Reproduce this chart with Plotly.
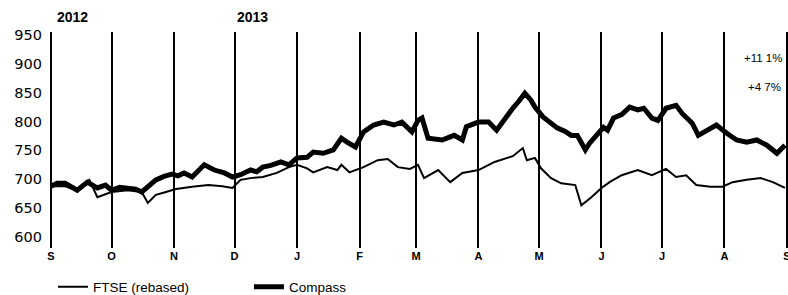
import plotly.graph_objects as go

# ---- data ----
compass_dates = ["2012-09-01","2012-09-04","2012-09-08","2012-09-11","2012-09-14","2012-09-19","2012-09-24","2012-09-28",
    "2012-10-01","2012-10-05","2012-10-09","2012-10-13","2012-10-16","2012-10-19","2012-10-23","2012-10-27","2012-10-31",
    "2012-11-03","2012-11-06","2012-11-10","2012-11-13","2012-11-16","2012-11-21","2012-11-26","2012-11-30",
    "2012-12-04","2012-12-09","2012-12-12","2012-12-15","2012-12-19","2012-12-24","2012-12-28",
    "2013-01-01","2013-01-06","2013-01-09","2013-01-14","2013-01-19","2013-01-21","2013-01-23","2013-01-26","2013-01-30",
    "2013-02-03","2013-02-08","2013-02-13","2013-02-18","2013-02-22","2013-02-25","2013-02-27",
    "2013-03-02","2013-03-04","2013-03-07","2013-03-10","2013-03-14","2013-03-17","2013-03-20","2013-03-24","2013-03-26",
    "2013-04-01","2013-04-06","2013-04-10","2013-04-14","2013-04-18","2013-04-21","2013-04-24","2013-04-27","2013-04-29",
    "2013-05-03","2013-05-06","2013-05-10","2013-05-14","2013-05-17","2013-05-20","2013-05-24","2013-05-26","2013-05-29",
    "2013-06-02","2013-06-04","2013-06-07","2013-06-11","2013-06-15","2013-06-19","2013-06-22","2013-06-26","2013-06-29",
    "2013-07-03","2013-07-08","2013-07-11","2013-07-16","2013-07-19","2013-07-23","2013-07-28",
    "2013-08-02","2013-08-07","2013-08-12","2013-08-17","2013-08-22","2013-08-27","2013-08-31"]
compass_values = [688,693,693,686,681,695,685,690,
    681,686,685,683,678,688,699,705,709,
    706,711,704,715,725,716,711,704,
    708,716,713,721,724,730,725,
    737,738,747,745,751,760,771,764,756,
    782,794,799,794,799,790,782,
    802,806,771,770,768,772,776,768,791,
    799,799,785,805,823,835,849,837,825,
    808,799,789,783,776,776,751,762,773,
    790,785,806,812,825,820,823,806,802,
    823,828,814,797,776,785,794,
    780,768,764,768,759,745,759]

ftse_dates = ["2012-09-01","2012-09-08","2012-09-14","2012-09-20","2012-09-24",
    "2012-10-01","2012-10-09","2012-10-16","2012-10-19","2012-10-23","2012-10-28",
    "2012-11-02","2012-11-10","2012-11-18","2012-11-25","2012-11-30",
    "2012-12-04","2012-12-09","2012-12-15","2012-12-22","2012-12-28",
    "2013-01-01","2013-01-06","2013-01-09","2013-01-16","2013-01-21","2013-01-23","2013-01-27",
    "2013-02-03","2013-02-10","2013-02-15","2013-02-20","2013-02-26",
    "2013-03-02","2013-03-05","2013-03-12","2013-03-18","2013-03-24",
    "2013-04-01","2013-04-09","2013-04-18","2013-04-23","2013-04-25","2013-04-29",
    "2013-05-02","2013-05-07","2013-05-12","2013-05-19","2013-05-22","2013-05-27",
    "2013-06-01","2013-06-05","2013-06-11","2013-06-19","2013-06-26",
    "2013-07-03","2013-07-08","2013-07-13","2013-07-18","2013-07-25","2013-07-31",
    "2013-08-05","2013-08-12","2013-08-19","2013-08-25","2013-08-31"]
ftse_values = [688,688,681,699,669,
    678,681,678,659,673,678,
    683,687,690,688,685,
    699,702,704,711,721,
    725,719,712,721,716,725,712,
    721,733,735,721,718,
    725,702,716,695,711,
    716,730,740,754,733,737,
    719,702,693,690,655,669,
    685,695,707,716,707,
    718,704,707,690,687,687,
    695,699,702,695,685]

month_ticks = ["2012-09-01","2012-10-01","2012-11-01","2012-12-01","2013-01-01","2013-02-01","2013-03-01",
               "2013-04-01","2013-05-01","2013-06-01","2013-07-01","2013-08-01","2013-09-01"]
month_labels = ["S","O","N","D","J","F","M","A","M","J","J","A","S"]
y_ticks = [600,650,700,750,800,850,900,950]
year_labels = ["2012","2013"]
year_positions = ["2012-09-03","2012-12-01"]
change_labels = ["+11 1%","+4 7%"]

FONT = "Liberation Sans, Arial, Helvetica, sans-serif"

fig = go.Figure()
fig.add_trace(go.Scatter(x=ftse_dates, y=ftse_values, mode="lines", name="FTSE (rebased)",
                         line=dict(color="black", width=2)))
fig.add_trace(go.Scatter(x=compass_dates, y=compass_values, mode="lines", name="Compass",
                         line=dict(color="black", width=5)))

# closing month line at the right edge (plotly drops grid lines on the plot edge)
fig.add_shape(type="line", xref="x", yref="paper", x0=month_ticks[-1], x1=month_ticks[-1], y0=0, y1=1,
              line=dict(color="black", width=1.5), layer="below")

for lbl, pos in zip(year_labels, year_positions):
    fig.add_annotation(x=pos, y=1.0, xref="x", yref="paper", yshift=15, text=lbl, showarrow=False,
                       xanchor="left", yanchor="middle", font=dict(family=FONT, size=14, color="black", weight="bold"))

fig.add_annotation(x=0.995, y=955, xref="paper", yref="y", yshift=-26, text=change_labels[0], showarrow=False,
                   xanchor="right", yanchor="middle", font=dict(family=FONT, size=11.5, color="black"))
fig.add_annotation(x=0.993, y=955, xref="paper", yref="y", yshift=-55, text=change_labels[1], showarrow=False,
                   xanchor="right", yanchor="middle", font=dict(family=FONT, size=11.5, color="black"))

fig.update_layout(
    width=788, height=295,
    margin=dict(l=50, r=0, t=32, b=47, autoexpand=False),
    plot_bgcolor="white", paper_bgcolor="white",
    font=dict(family=FONT, color="black"),
    showlegend=True,
    legend=dict(orientation="h", x=0.004, xanchor="left", y=-0.18, yanchor="middle",
                font=dict(family=FONT, size=13.5, color="black"), entrywidth=151, entrywidthmode="pixels",
                bgcolor="rgba(0,0,0,0)"),
)
fig.update_xaxes(type="date", range=["2012-08-31 12:00", "2013-09-01 12:00"],
                 tickvals=month_ticks, ticktext=month_labels,
                 showgrid=True, gridcolor="black", gridwidth=1.5,
                 showline=False, zeroline=False, ticks="", ticklabeloverflow="allow",
                 tickfont=dict(family=FONT, size=11, color="black", weight="bold"))
fig.update_yaxes(range=[581, 955], tickvals=y_ticks, showgrid=False, zeroline=False, showline=False,
                 ticks="", ticklabelstandoff=7,
                 tickfont=dict(family="DejaVu Sans, sans-serif", size=14.5, color="black"))

fig.write_html("out.html", config={"displayModeBar": False},
               post_script="document.body.style.margin='0';document.body.style.overflow='hidden';")
